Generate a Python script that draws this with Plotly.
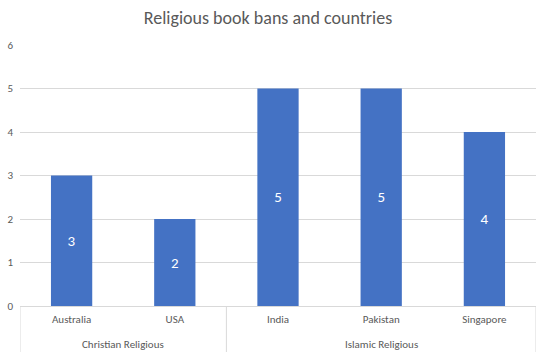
import plotly.graph_objects as go

countries = ["Australia", "USA", "India", "Pakistan", "Singapore"]
bans = [3, 2, 5, 5, 4]
group_names = ["Christian Religious", "Islamic Religious"]
group_members = [["Australia", "USA"], ["India", "Pakistan", "Singapore"]]
y_ticks = [0, 1, 2, 3, 4, 5, 6]

FONT = "Calibri, Carlito, Lato, sans-serif"
GREY = "#595959"
LINE = "#D9D9D9"

fig = go.Figure(go.Bar(
    x=countries,
    y=bans,
    marker=dict(color="#4472C4", line=dict(width=0)),
    text=bans,
    textposition="inside",
    insidetextanchor="middle",
    textfont=dict(color="white", size=15, family=FONT),
))

# group labels and divider lines below the category axis
bounds = [-0.5]
for name, members in zip(group_names, group_members):
    idx = [countries.index(m) for m in members]
    center = (idx[0] + idx[-1]) / 2
    fig.add_annotation(x=center, xref="x", y=0, yref="paper", yanchor="middle",
                       yshift=-38, text=name, showarrow=False,
                       font=dict(size=11, color=GREY, family=FONT))
    bounds.append(idx[-1] + 0.5)
for b in bounds:
    fig.add_shape(type="line", xref="x", x0=b, x1=b, yref="paper", y0=0, y1=-46 / 261,
                  line=dict(color=LINE, width=1))

fig.update_layout(
    width=536, height=360,
    paper_bgcolor="white", plot_bgcolor="white",
    margin=dict(l=20, r=0, t=45, b=54),
    bargap=0.6,
    showlegend=False,
    font=dict(family=FONT, color=GREY, size=11),
    title=dict(text="Religious book bans and countries", x=0.5, xanchor="center",
               y=0.95, yanchor="middle",
               font=dict(size=18, color=GREY)),
)
fig.update_yaxes(range=[0, 6], tickvals=y_ticks, showgrid=True, gridcolor=LINE,
                 gridwidth=1, zeroline=False, showline=False, ticks="", ticklabelstandoff=6,
                 tickfont=dict(size=11, color=GREY))
fig.update_xaxes(showline=True, linecolor=LINE, ticks="", ticklabelstandoff=3,
                 range=[-0.5, 4.5], tickfont=dict(size=11, color=GREY))

fig.write_html("out.html", config={"displayModeBar": False},
               post_script="document.body.style.margin='0';")
